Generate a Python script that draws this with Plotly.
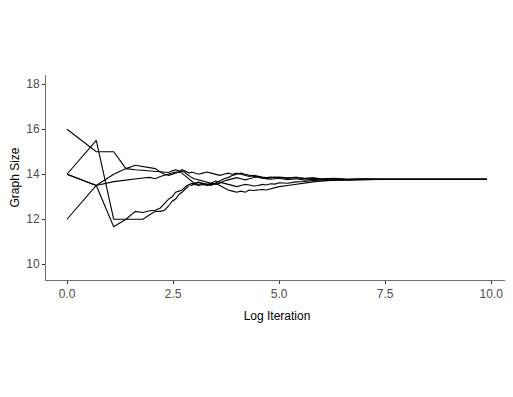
import plotly.graph_objects as go

# log iteration (shared x for every run)
log_iter = [0.0, 0.69, 1.1, 1.39, 1.61, 1.79, 1.95, 2.08, 2.2, 2.3,
            2.4, 2.48, 2.56, 2.64, 2.71, 2.77, 2.83, 2.89, 2.94, 3.0,
            3.1, 3.2, 3.3, 3.4, 3.5, 3.6, 3.7, 3.8, 3.9, 4.0,
            4.1, 4.2, 4.3, 4.4, 4.5, 4.6, 4.7, 4.8, 4.9, 5.0,
            5.2, 5.4, 5.6, 5.8, 6.0, 6.3, 6.6, 7.0, 7.5, 8.0,
            8.5, 9.0, 9.5, 9.9]

run_a = [16, 15, 15, 14.25, 14.2, 14.17, 14.14, 14.12, 14.1, 14.1,
         14.08, 14.15, 14.2, 14.15, 14.12, 14.1, 14.0, 13.9, 13.85, 13.8,
         13.75, 13.7, 13.65, 13.6, 13.55, 13.6, 13.7, 13.75, 13.8, 13.85,
         13.8, 13.75, 13.8, 13.85, 13.9, 13.85, 13.8, 13.84, 13.88, 13.85,
         13.82, 13.86, 13.8, 13.83, 13.78, 13.8, 13.77, 13.79, 13.77, 13.78,
         13.78, 13.78, 13.78, 13.78]

run_b = [14, 15.5, 12, 12, 12, 12, 12.2, 12.35, 12.35, 12.4,
         12.6, 12.8, 12.9, 13.1, 13.2, 13.3, 13.4, 13.55, 13.6, 13.55,
         13.5, 13.55, 13.5, 13.55, 13.6, 13.5, 13.4, 13.3, 13.25, 13.2,
         13.25, 13.2, 13.3, 13.28, 13.3, 13.32, 13.3, 13.35, 13.38, 13.45,
         13.5, 13.56, 13.62, 13.66, 13.7, 13.74, 13.76, 13.78, 13.77, 13.78,
         13.78, 13.78, 13.78, 13.78]

run_c = [12, 13.5, 14, 14.25, 14.4, 14.33, 14.29, 14.25, 14.1, 14.0,
         13.95, 14.0, 14.05, 14.1, 14.2, 14.15, 14.1, 14.05, 14.1, 14.05,
         14.0, 14.05, 14.1, 14.05, 14.0, 13.95, 14.0, 14.05, 14.0, 14.05,
         14.0, 13.95, 13.9, 13.95, 13.9, 13.88, 13.85, 13.87, 13.85, 13.88,
         13.84, 13.86, 13.82, 13.84, 13.8, 13.82, 13.78, 13.8, 13.78, 13.77,
         13.78, 13.78, 13.78, 13.78]

run_d = [14, 13.5, 11.67, 12.0, 12.35, 12.3, 12.38, 12.4, 12.5, 12.7,
         12.9, 13.0, 13.2, 13.25, 13.3, 13.4, 13.5, 13.55, 13.5, 13.6,
         13.65, 13.6, 13.55, 13.6, 13.7, 13.65, 13.6, 13.55, 13.5, 13.45,
         13.5, 13.55, 13.52, 13.48, 13.5, 13.55, 13.52, 13.58, 13.56, 13.62,
         13.6, 13.66, 13.68, 13.72, 13.7, 13.75, 13.74, 13.77, 13.78, 13.78,
         13.78, 13.78, 13.78, 13.78]

run_e = [14, 13.5, 13.67, 13.75, 13.8, 13.83, 13.86, 13.8, 13.9, 13.95,
         14.0, 14.05, 14.1, 14.1, 14.05, 13.95, 13.85, 13.75, 13.7, 13.6,
         13.55, 13.6, 13.55, 13.5, 13.6, 13.7, 13.8, 13.85, 13.95, 14.0,
         14.05, 14.0, 13.95, 13.9, 13.85, 13.82, 13.8, 13.78, 13.8, 13.82,
         13.76, 13.8, 13.74, 13.77, 13.75, 13.79, 13.76, 13.77, 13.78, 13.78,
         13.78, 13.77, 13.78, 13.78]

x_ticks = [0, 2.5, 5, 7.5, 10]
x_tick_labels = ['0.0', '2.5', '5.0', '7.5', '10.0']
y_ticks = [10, 12, 14, 16, 18]

fig = go.Figure()
for run in [run_a, run_b, run_c, run_d, run_e]:
    fig.add_trace(go.Scatter(
        x=log_iter, y=run,
        mode='lines',
        line=dict(color='black', width=1.1),
        showlegend=False
    ))

axis_common = dict(
    showgrid=False, zeroline=False,
    showline=True, linecolor='#6e6e6e', linewidth=1,
    ticks='outside', ticklen=3, tickcolor='#333333', tickwidth=1,
    tickfont=dict(color='#4D4D4D', size=12),
    automargin=False,
)

# page body has an 8px margin, so the margins are shifted by that much
fig.update_layout(
    width=513, height=397,
    paper_bgcolor='white',
    plot_bgcolor='white',
    margin=dict(l=38, r=13, t=67, b=125),
    font=dict(family='Arial, Liberation Sans, sans-serif', color='black'),
    xaxis=dict(range=[-0.495, 10.395], tickvals=x_ticks, ticktext=x_tick_labels,
               title=dict(text='Log Iteration', font=dict(size=12, color='black'), standoff=11),
               **axis_common),
    yaxis=dict(range=[9.3, 18.41], tickvals=y_ticks,
               title=dict(text='Graph Size', font=dict(size=12, color='black'), standoff=12),
               **axis_common),
)

fig.write_html('out.html')
